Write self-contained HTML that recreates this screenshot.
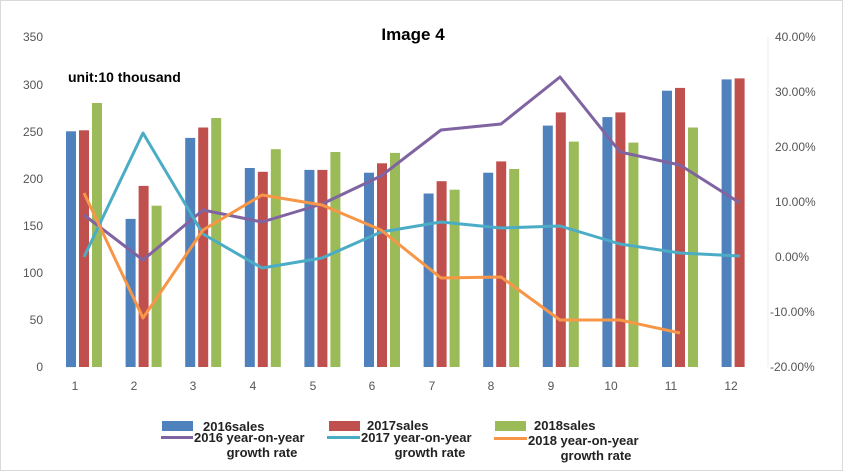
<!DOCTYPE html>
<html><head><style>
body{margin:0;background:#fff;}
svg{display:block;font-family:"Liberation Sans",Arial,sans-serif;}
</style></head><body>
<svg width="843" height="471" viewBox="0 0 843 471">
<rect x="0.5" y="0.5" width="842" height="470" fill="#fff" stroke="#d9d9d9"/>
<g font-size="12" fill="#555">
<text x="43" y="41" text-anchor="end">350</text>
<text x="43" y="89" text-anchor="end">300</text>
<text x="43" y="136" text-anchor="end">250</text>
<text x="43" y="183" text-anchor="end">200</text>
<text x="43" y="230" text-anchor="end">150</text>
<text x="43" y="277" text-anchor="end">100</text>
<text x="43" y="324" text-anchor="end">50</text>
<text x="43" y="371" text-anchor="end">0</text>
<text x="775" y="41">40.00%</text>
<text x="775" y="96">30.00%</text>
<text x="775" y="151">20.00%</text>
<text x="775" y="206">10.00%</text>
<text x="775" y="261">0.00%</text>
<text x="770" y="316">-10.00%</text>
<text x="770" y="371">-20.00%</text>
</g>
<line x1="768" y1="37" x2="768" y2="367" stroke="#eeeeee"/>
<text x="413" y="40" text-anchor="middle" font-size="17" font-weight="bold" fill="#000">Image 4</text>
<text x="68" y="82" font-size="14" font-weight="bold" fill="#000">unit:10 thousand</text>
<g id="bars"></g>
<g font-size="12" fill="#555" text-anchor="middle">
<text x="75" y="390">1</text><text x="134" y="390">2</text><text x="193" y="390">3</text><text x="253" y="390">4</text><text x="313" y="390">5</text><text x="372" y="390">6</text><text x="432" y="390">7</text><text x="491" y="390">8</text><text x="551" y="390">9</text><text x="611" y="390">10</text><text x="671" y="390">11</text><text x="731" y="390">12</text>
</g>
<g fill="none" stroke-width="3" stroke-linejoin="round">
<polyline stroke="#8064a2" points="84,215 143,260 203,210 262,222 322,204 381,176 441,130 501,124 560,77 620,152 680,165 740,203"/>
<polyline stroke="#4bacc6" points="84,257 143,133 203,234 262,268 322,258 381,232 441,222 501,228 560,226 620,244 680,253 740,256"/>
<polyline stroke="#f79646" points="84,193 143,318 203,230 262,195 322,205 381,230 441,278 501,277 560,320 620,320 680,333"/>
</g>
<g font-size="13" font-weight="bold" fill="#222">
<rect x="162" y="421" width="31" height="10" fill="#4f81bd"/><text x="203" y="431">2016sales</text>
<rect x="329" y="421" width="31" height="10" fill="#c0504d"/><text x="367" y="430">2017sales</text>
<rect x="495" y="421" width="31" height="10" fill="#9bbb59"/><text x="534" y="430">2018sales</text>
<rect x="161" y="436" width="32" height="3" fill="#8064a2"/><text x="194" y="442">2016 year-on-year</text><text x="262" y="457" text-anchor="middle">growth rate</text>
<rect x="327" y="436" width="33" height="3" fill="#4bacc6"/><text x="361" y="442">2017 year-on-year</text><text x="430" y="457" text-anchor="middle">growth rate</text>
<rect x="494" y="437" width="33" height="3" fill="#f79646"/><text x="528" y="445">2018 year-on-year</text><text x="596" y="460" text-anchor="middle">growth rate</text>
</g>
</svg>
<script>
var d=[[250,157,243,211,209,206,184,206,256,265,293,305],[251,192,254,207,209,216,197,218,270,270,296,306],[280,171,264,231,228,227,188,210,239,238,254,null]];
var c=["#4f81bd","#c0504d","#9bbb59"],g=document.getElementById("bars"),s="";
for(var i=0;i<12;i++)for(var k=0;k<3;k++){var v=d[k][i];if(v==null)continue;var h=v*0.943,x=84+59.6*i+(k-1)*13-5;
s+='<rect x="'+x.toFixed(1)+'" y="'+(367-h).toFixed(1)+'" width="10" height="'+h.toFixed(1)+'" fill="'+c[k]+'"/>';}
g.innerHTML=s;
</script>
</body></html>
